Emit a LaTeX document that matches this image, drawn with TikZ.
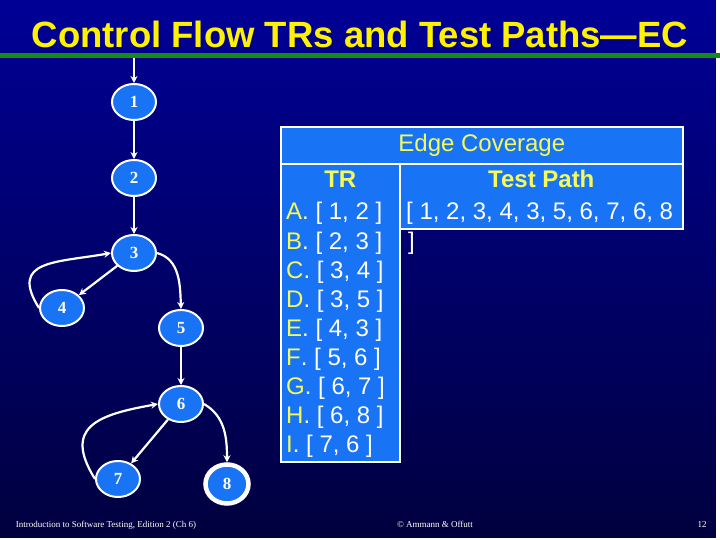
\documentclass[tikz,border=0pt]{standalone}
\usepackage{fontspec}
\setmainfont{Liberation Sans}
\newfontfamily\numfont{Liberation Serif}
\usetikzlibrary{arrows.meta,shapes.geometric}
\definecolor{slidetop}{RGB}{0,0,150}
\definecolor{slidebot}{RGB}{0,0,62}
\definecolor{cellblue}{RGB}{24,116,245}
\definecolor{tryellow}{RGB}{245,250,90}
\definecolor{rulegreen}{RGB}{22,140,22}
\begin{document}
\begin{tikzpicture}[x=1pt,y=-1pt,
    vtx/.style={ellipse, draw=white, line width=2pt, fill=cellblue, minimum width=44pt,
        minimum height=36pt, inner sep=0pt, text=white, font=\numfont\bfseries\fontsize{17}{17}\selectfont},
    fin/.style={vtx, line width=4.5pt, minimum width=43pt, minimum height=39pt},
    edge/.style={draw=white, line width=2.2pt, -{Stealth[length=7pt,width=7pt]}},
    cell/.style={draw=white, line width=1.6pt, fill=cellblue, inner sep=0pt, anchor=north west},
    row/.style={anchor=base west, inner sep=0pt, text=white, font=\fontsize{24}{24}\selectfont},
    foot/.style={anchor=base, inner sep=0pt, text=white, font=\numfont\fontsize{9}{9}\selectfont}]
\useasboundingbox (0,0) rectangle (720,540);
\shade[top color=slidetop, bottom color=slidebot] (0,0) rectangle (720,540);
\fill[white] (716,0) rectangle (720,540);
\fill[white] (0,538) rectangle (720,540);
\node[text=yellow, font=\bfseries\fontsize{36.5}{36.5}\selectfont, inner sep=0pt, anchor=base] (title) at (360,48)
    {Control Flow TRs and Test Paths---EC};
\fill[rulegreen] (0,53.5) rectangle (720,58.5);
% graph
\coordinate (entry) at (134,58.5);
\foreach \n/\x/\y in {1/134/102, 2/134/178, 3/134/253, 4/62/308, 5/181/328, 6/181/404, 7/118/479}
    \node[vtx] (n\n) at (\x,\y) {\n};
\node[fin] (n8) at (227,484) {8};
\draw[edge] (entry) -- (n1);
\foreach \a/\b in {1/2, 2/3, 3/4, 5/6, 6/7}
    \draw[edge] (n\a) -- (n\b);
\draw[edge] (n4.west) to[out=122,in=190,looseness=1.6] (n3.west);
\draw[edge] (n3.east) to[out=-15,in=92] (n5.north);
\draw[edge] (n7.west) to[out=122,in=190,looseness=1.6] (n6.west);
\draw[edge] (n6.east) to[out=-30,in=90] (n8.north);
% table
\node[cell, minimum width=402pt, minimum height=37pt] (head) at (280,126) {};
\node[cell, minimum width=119pt, minimum height=298pt] (trcol) at (280,163) {};
\node[cell, minimum width=283pt, minimum height=65pt] (pathcol) at (399,163) {};
\node[anchor=base, inner sep=0pt, text=tryellow, font=\fontsize{24}{24}\selectfont] (hdtxt) at (head.center |- 0,152) {Edge Coverage};
\node[anchor=base, inner sep=0pt, text=tryellow, font=\bfseries\fontsize{24}{24}\selectfont] (trhd) at (trcol.center |- 0,188) {TR};
\node[anchor=base, inner sep=0pt, text=tryellow, font=\bfseries\fontsize{24}{24}\selectfont] (pathhd) at (pathcol.center |- 0,188) {Test Path};
\foreach \l/\a/\b [count=\i] in {A/1/2, B/2/3, C/3/4, D/3/5, E/4/3, F/5/6, G/6/7, H/6/8, I/7/6}
    \node[row] (tr\i) at (286,{220+29*(\i-1)}) {\textcolor{tryellow}{\l}. [ \a, \b{} ]};
\node[row] (path) at (406,220) {[ 1, 2, 3, 4, 3, 5, 6, 7, 6, 8};
\node[row] (pathend) at (408,249) {]};
% footer
\node[foot] (book) at (106,527) {Introduction to Software Testing, Edition 2 (Ch 6)};
\node[foot] (copy) at (435,527) {\textcopyright{} Ammann \& Offutt};
\node[foot] (page) at (702,527) {12};
\end{tikzpicture}
\end{document}
